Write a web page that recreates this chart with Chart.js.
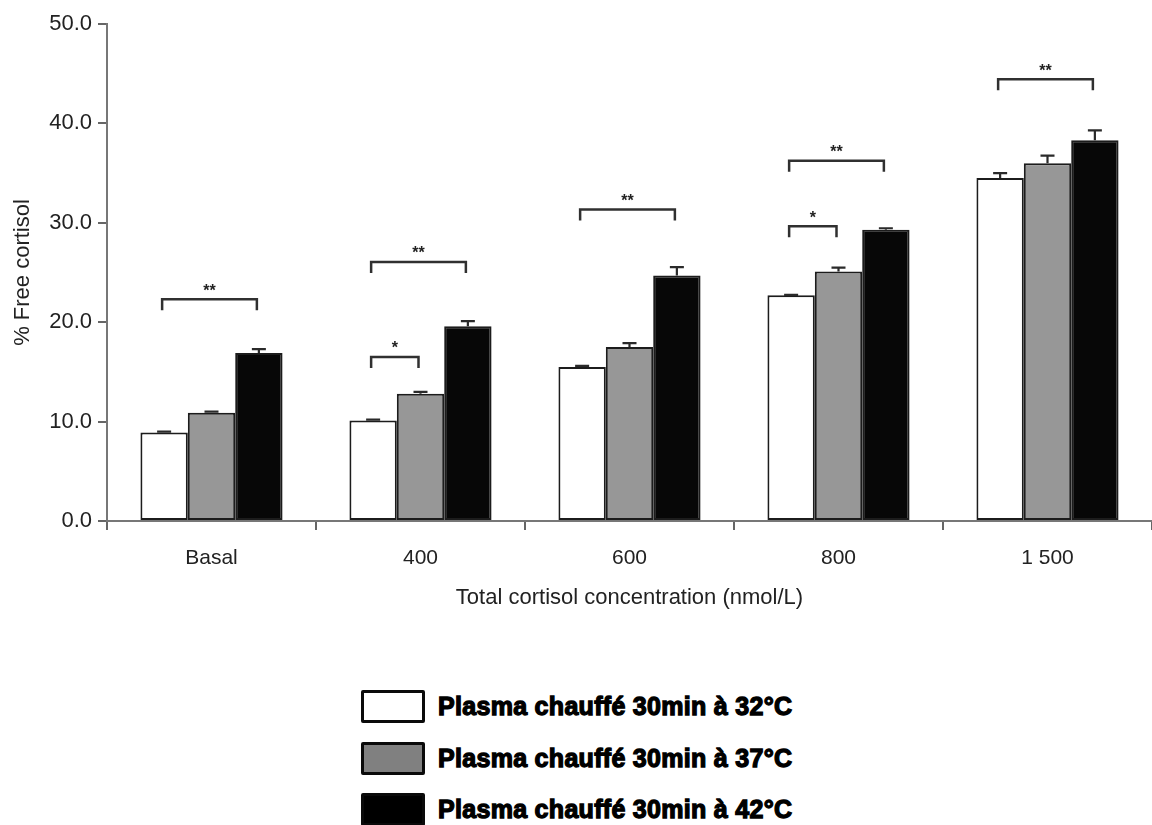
<!DOCTYPE html>
<html>
<head>
<meta charset="utf-8">
<script src="https://cdn.jsdelivr.net/npm/chart.js@4.4.1/dist/chart.umd.min.js"></script>
<style>
  html, body { margin: 0; padding: 0; background: #ffffff; }
  #wrap { position: relative; width: 1152px; height: 825px; overflow: hidden; background: #fff; }
  #chartBox { position: absolute; left: 0; top: 0; width: 1152px; height: 640px; }
  .leg-row { position: absolute; left: 361px; height: 33px; display: flex; align-items: center; }
  .leg-box { width: 58px; height: 27px; border: 3px solid #0a0a0a; border-radius: 2px; flex: none; }
  .leg-text { margin-left: 13px; font-family: "Liberation Sans", Arial, sans-serif; font-weight: bold;
              font-size: 25px; color: #000; -webkit-text-stroke: 1.3px #000; white-space: nowrap; letter-spacing: 0.3px; }
</style>
</head>
<body>
<div id="wrap">
  <div id="chartBox"><canvas id="c" width="1152" height="640"></canvas></div>
  <div id="legend"></div>
</div>
<script>
// ---- data ----
const categories = ['Basal', '400', '600', '800', '1 500'];
const seriesLabels = ['Plasma chauffé 30min à 32°C', 'Plasma chauffé 30min à 37°C', 'Plasma chauffé 30min à 42°C'];
const values32 = [8.9, 10.1, 15.5, 22.7, 34.5];
const values37 = [10.9, 12.8, 17.5, 25.1, 36.0];
const values42 = [16.9, 19.6, 24.7, 29.3, 38.3];
const errors32 = [0.1, 0.1, 0.1, 0.05, 0.5];
const errors37 = [0.1, 0.2, 0.4, 0.4, 0.75];
const errors42 = [0.4, 0.5, 0.85, 0.15, 1.0];
const yTicks = [0, 10, 20, 30, 40, 50];
// significance brackets
const bracketCategory = [0, 1, 1, 2, 3, 3, 4];
const bracketFrom     = [0, 0, 0, 0, 0, 0, 0];
const bracketTo       = [2, 1, 2, 2, 1, 2, 2];
const bracketY        = [22.3, 16.5, 26.05, 31.35, 29.65, 36.25, 44.45];
const bracketLabel    = ['**', '*', '**', '**', '*', '**', '**'];

// ---- style ----
const fills = ['#ffffff', '#979797', '#070707'];
const legendFills = ['#ffffff', '#808080', '#000000'];
const allValues = [values32, values37, values42];
const allErrors = [errors32, errors37, errors42];

const CHART_LEFT = 107, CHART_TOP = 24, CHART_BOTTOM = 521, CANVAS_H = 640;

const overlayPlugin = {
  id: 'overlay',
  afterDatasetsDraw(chart) {
    const ctx = chart.ctx;
    const y = chart.scales.y;
    ctx.save();
    // error bars (upper only)
    ctx.strokeStyle = '#2a2a2a';
    ctx.lineWidth = 2.2;
    allValues.forEach((vals, di) => {
      const meta = chart.getDatasetMeta(di);
      vals.forEach((v, i) => {
        const bar = meta.data[i];
        const yTop = y.getPixelForValue(v);
        const yErr = y.getPixelForValue(v + allErrors[di][i]);
        ctx.beginPath();
        ctx.moveTo(bar.x, yTop);
        ctx.lineTo(bar.x, yErr);
        ctx.moveTo(bar.x - 7, yErr);
        ctx.lineTo(bar.x + 7, yErr);
        ctx.stroke();
      });
    });
    // brackets
    ctx.strokeStyle = '#303030';
    ctx.lineWidth = 2.5;
    ctx.fillStyle = '#222';
    ctx.font = 'bold 16px "Liberation Sans", Arial, sans-serif';
    ctx.textAlign = 'center';
    ctx.textBaseline = 'middle';
    bracketCategory.forEach((cat, k) => {
      const x1 = chart.getDatasetMeta(bracketFrom[k]).data[cat].x - 2;
      const x2 = chart.getDatasetMeta(bracketTo[k]).data[cat].x - 2;
      const yb = y.getPixelForValue(bracketY[k]);
      ctx.beginPath();
      ctx.moveTo(x1, yb + 11);
      ctx.lineTo(x1, yb);
      ctx.lineTo(x2, yb);
      ctx.lineTo(x2, yb + 11);
      ctx.stroke();
      ctx.fillText(bracketLabel[k], (x1 + x2) / 2, yb - 8);
    });
    ctx.restore();
  }
};

const chart = new Chart(document.getElementById('c'), {
  type: 'bar',
  data: {
    labels: categories,
    datasets: allValues.map((vals, i) => ({
      label: seriesLabels[i],
      data: vals,
      backgroundColor: fills[i],
      borderColor: '#1c1c1c',
      borderWidth: 2,
      borderSkipped: false,
      barPercentage: 1.0,
      categoryPercentage: 0.68
    }))
  },
  options: {
    responsive: false,
    animation: false,
    layout: { padding: { top: CHART_TOP, left: 0, right: 0, bottom: 0 } },
    plugins: { legend: { display: false }, tooltip: { enabled: false } },
    scales: {
      x: {
        grid: { display: true, offset: true, drawOnChartArea: false, drawTicks: true, tickLength: 9, color: '#666', lineWidth: 2 },
        border: { display: true, color: '#777', width: 2 },
        ticks: { color: '#222', padding: 16, font: { family: '"Liberation Sans", Arial, sans-serif', size: 21 } },
        title: { display: true, text: 'Total cortisol concentration (nmol/L)', color: '#222',
                 font: { family: '"Liberation Sans", Arial, sans-serif', size: 22 }, padding: { top: 0, bottom: 29 } },
        afterFit(scale) { scale.height = CANVAS_H - CHART_BOTTOM; }
      },
      y: {
        min: 0, max: 50,
        afterBuildTicks(scale) { scale.ticks = yTicks.map(v => ({ value: v })); },
        grid: { display: true, drawOnChartArea: false, drawTicks: true, tickLength: 9, color: '#666', lineWidth: 2 },
        border: { display: true, color: '#777', width: 2 },
        ticks: { color: '#222', padding: 6, callback: v => Number(v).toFixed(1),
                 font: { family: '"Liberation Sans", Arial, sans-serif', size: 22 } },
        title: { display: true, text: '% Free cortisol', color: '#222',
                 font: { family: '"Liberation Sans", Arial, sans-serif', size: 22 }, padding: { top: 10, bottom: 0 } },
        afterFit(scale) { scale.width = CHART_LEFT; }
      }
    }
  },
  plugins: [overlayPlugin]
});

// ---- HTML legend built from dataset info ----
const legendTops = [690, 742, 793];
const legendEl = document.getElementById('legend');
chart.data.datasets.forEach((ds, i) => {
  const row = document.createElement('div');
  row.className = 'leg-row';
  row.style.top = legendTops[i] + 'px';
  const box = document.createElement('div');
  box.className = 'leg-box';
  box.style.background = legendFills[i];
  const txt = document.createElement('span');
  txt.className = 'leg-text';
  txt.textContent = ds.label;
  row.appendChild(box);
  row.appendChild(txt);
  legendEl.appendChild(row);
});
</script>
</body>
</html>
